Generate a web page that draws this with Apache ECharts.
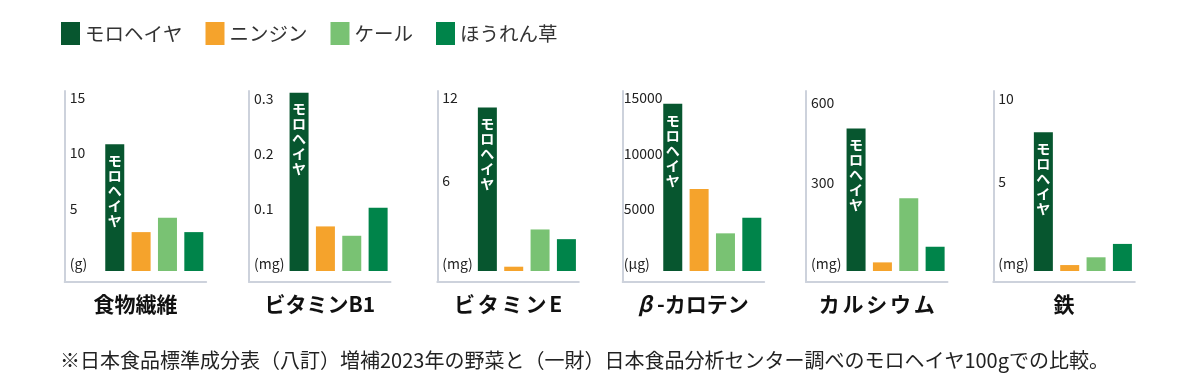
<!DOCTYPE html>
<html>
<head>
<meta charset="utf-8">
<script src="https://cdn.jsdelivr.net/npm/echarts@6/dist/echarts.min.js"></script>
<style>
html,body{margin:0;padding:0;background:#fff;}
#chart{width:1190px;height:392px;}
</style>
</head>
<body>
<div id="chart"></div>
<script>
const categories = ['モロヘイヤ', 'ニンジン', 'ケール', 'ほうれん草'];
const nutrients = ['食物繊維', 'ビタミンB1', 'ビタミンE', 'β-カロテン', 'カルシウム', '鉄'];
const units = ['(g)', '(mg)', '(mg)', '(μg)', '(mg)', '(mg)'];
const tickValues = [[5, 10, 15], [0.1, 0.2, 0.3], [6, 12], [5000, 10000, 15000], [300, 600], [5, 10]];
const axisTop = [16.2, 0.327, 13.0, 16250, 668, 10.9];

const fiber = [11.4, 3.5, 4.8, 3.5];
const vitaminB1 = [0.324, 0.081, 0.064, 0.115];
const vitaminE = [11.8, 0.31, 3.0, 2.3];
const betaCarotene = [15100, 7400, 3400, 4800];
const calcium = [529, 32, 270, 90];
const iron = [8.4, 0.36, 0.83, 1.64];
const panelValues = [fiber, vitaminB1, vitaminE, betaCarotene, calcium, iron];

const colors = ['#07562f', '#f5a32c', '#79c273', '#00844a'];
const FONT = '"Noto Sans CJK JP", "Noto Sans", sans-serif';
const gridLeft = [64.7, 249, 437.3, 622.7, 806, 993.3];
const labelMargin = [5, 5, 5, 1, 5, 5];
const axisColor = '#cdd2dc';

function nameFormat(k) {
  const n = nutrients[k];
  if (k === 3) return '{beta|' + n.charAt(0) + '}{n|' + n.slice(1) + '}';
  if (k === 2 || k === 4) return n.split('').map(c => '{sp|' + c + '}').join('');
  return n;
}

const grids = [], xAxes = [], yAxes = [], series = [];
nutrients.forEach((nm, k) => {
  grids.push({ left: gridLeft[k], top: 91, width: 141.5, height: 191 });
  xAxes.push({
    type: 'value', gridIndex: k, min: -1.9, max: 3.47,
    axisLine: { show: true, onZero: false, lineStyle: { color: axisColor, width: 2 } },
    axisTick: { show: false }, axisLabel: { show: false }, splitLine: { show: false },
    name: nameFormat(k), nameLocation: 'middle', nameGap: 12,
    nameTextStyle: {
      fontSize: 21, fontWeight: 'bold', color: '#111', fontFamily: FONT,
      rich: {
        beta: { fontSize: 21, fontWeight: 'bold', fontStyle: 'italic', color: '#111', fontFamily: FONT, padding: [0, 5, 0, 0] },
        n: { fontSize: 21, fontWeight: 'bold', color: '#111', fontFamily: FONT },
        sp: { fontSize: 21, fontWeight: 'bold', color: '#111', fontFamily: FONT, padding: [0, 1.4] }
      }
    }
  });
  yAxes.push({
    type: 'value', gridIndex: k, min: -axisTop[k] * 11 / 180, max: axisTop[k],
    axisLine: { show: true, onZero: false, lineStyle: { color: axisColor, width: 2 } },
    axisTick: { show: false }, splitLine: { show: false },
    axisLabel: {
      inside: true, margin: labelMargin[k], customValues: [0].concat(tickValues[k]),
      formatter: v => (v === 0 ? units[k] : String(v)),
      verticalAlign: 'bottom', fontSize: 14, color: '#222', fontFamily: FONT
    }
  });
  categories.forEach((c, j) => {
    const s = {
      type: 'bar', name: c, xAxisIndex: k, yAxisIndex: k, barWidth: 19, barGap: '-100%',
      data: [[j, panelValues[k][j]]],
      itemStyle: { color: colors[j] }
    };
    if (j === 0) {
      s.label = {
        show: true, position: 'insideTop', distance: 9,
        formatter: () => c.split('').join('\n'),
        color: '#fff', fontSize: 14, lineHeight: 15, fontWeight: 'bold', fontFamily: FONT
      };
    }
    series.push(s);
  });
});

const chart = echarts.init(document.getElementById('chart'), null, { renderer: 'canvas' });
chart.setOption({
  animation: false,
  backgroundColor: '#fff',
  color: colors,
  title: {
    text: '※日本食品標準成分表（八訂）増補2023年の野菜と（一財）日本食品分析センター調べのモロヘイヤ100gでの比較。',
    left: 60, top: 350, padding: 0,
    textStyle: { fontSize: 20, fontWeight: 'normal', color: '#222', fontFamily: FONT }
  },
  legend: {
    data: categories, left: 61, top: 22, padding: 0,
    icon: 'rect', itemWidth: 19, itemHeight: 23, itemGap: 23,
    textStyle: { fontSize: 19.5, color: '#333', fontFamily: FONT }
  },
  grid: grids, xAxis: xAxes, yAxis: yAxes, series: series
});
</script>
</body>
</html>
